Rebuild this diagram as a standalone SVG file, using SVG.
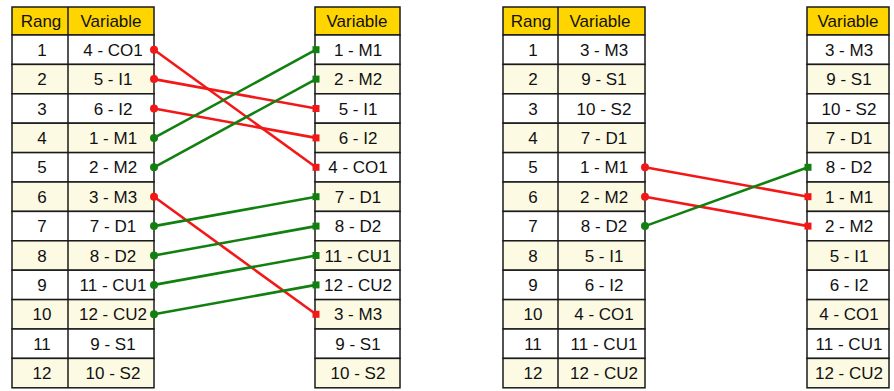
<svg xmlns="http://www.w3.org/2000/svg" width="894" height="391" viewBox="0 0 894 391">
  <style>
    .hd { fill: #FFD500; stroke: #1a1a1a; stroke-width: 1.5; }
    .r0 { fill: #FFFFFF; stroke: #1a1a1a; stroke-width: 1.5; }
    .r1 { fill: #FDFAE3; stroke: #1a1a1a; stroke-width: 1.5; }
    .sep { stroke: #1a1a1a; stroke-width: 1.5; }
    text { font-family: "Liberation Sans", Arial, sans-serif; font-size: 17px; fill: #111; text-anchor: middle; }
    .red { stroke: #F21818; stroke-width: 2.6; fill: none; }
    .grn { stroke: #118011; stroke-width: 2.6; fill: none; }
    .rdot { fill: #F21818; }
    .gdot { fill: #118011; }
  </style>
  <rect width="894" height="391" fill="#FFFFFF"/>

  <!-- Left panel: rank table -->
  <g id="tableA">
    <rect class="hd" x="12" y="7" width="142" height="28"/>
    <line class="sep" x1="68" y1="7" x2="68" y2="35"/>
    <text x="41" y="27">Rang</text><text x="111" y="27">Variable</text>
    <g id="A1"><rect class="r0" x="12" y="35" width="142" height="29.4"/><text x="42" y="56">1</text><text x="113" y="56">4 - CO1</text></g>
    <g id="A2"><rect class="r1" x="12" y="64.4" width="142" height="29.4"/><text x="42" y="85">2</text><text x="113" y="85">5 - I1</text></g>
    <g id="A3"><rect class="r0" x="12" y="93.8" width="142" height="29.4"/><text x="42" y="115">3</text><text x="113" y="115">6 - I2</text></g>
    <g id="A4"><rect class="r1" x="12" y="123.2" width="142" height="29.4"/><text x="42" y="144">4</text><text x="113" y="144">1 - M1</text></g>
    <g id="A5"><rect class="r0" x="12" y="152.6" width="142" height="29.4"/><text x="42" y="173">5</text><text x="113" y="173">2 - M2</text></g>
    <g id="A6"><rect class="r1" x="12" y="182" width="142" height="29.4"/><text x="42" y="203">6</text><text x="113" y="203">3 - M3</text></g>
    <g id="A7"><rect class="r0" x="12" y="211.4" width="142" height="29.4"/><text x="42" y="232">7</text><text x="113" y="232">7 - D1</text></g>
    <g id="A8"><rect class="r1" x="12" y="240.8" width="142" height="29.4"/><text x="42" y="262">8</text><text x="113" y="262">8 - D2</text></g>
    <g id="A9"><rect class="r0" x="12" y="270.2" width="142" height="29.4"/><text x="42" y="291">9</text><text x="113" y="291">11 - CU1</text></g>
    <g id="A10"><rect class="r1" x="12" y="299.6" width="142" height="29.4"/><text x="42" y="320">10</text><text x="113" y="320">12 - CU2</text></g>
    <g id="A11"><rect class="r0" x="12" y="329" width="142" height="29.4"/><text x="42" y="350">11</text><text x="113" y="350">9 - S1</text></g>
    <g id="A12"><rect class="r1" x="12" y="358.4" width="142" height="29.4"/><text x="42" y="379">12</text><text x="113" y="379">10 - S2</text></g>
    <line class="sep" x1="68" y1="35" x2="68" y2="387.8"/>
  </g>

  <!-- Left panel: reordered variables -->
  <g id="tableB">
    <rect class="hd" x="315" y="7" width="85" height="28"/>
    <text x="357" y="27">Variable</text>
    <g id="B1"><rect class="r0" x="315" y="35" width="85" height="29.4"/><text x="358" y="56">1 - M1</text></g>
    <g id="B2"><rect class="r1" x="315" y="64.4" width="85" height="29.4"/><text x="358" y="85">2 - M2</text></g>
    <g id="B3"><rect class="r0" x="315" y="93.8" width="85" height="29.4"/><text x="358" y="115">5 - I1</text></g>
    <g id="B4"><rect class="r1" x="315" y="123.2" width="85" height="29.4"/><text x="358" y="144">6 - I2</text></g>
    <g id="B5"><rect class="r0" x="315" y="152.6" width="85" height="29.4"/><text x="358" y="173">4 - CO1</text></g>
    <g id="B6"><rect class="r1" x="315" y="182" width="85" height="29.4"/><text x="358" y="203">7 - D1</text></g>
    <g id="B7"><rect class="r0" x="315" y="211.4" width="85" height="29.4"/><text x="358" y="232">8 - D2</text></g>
    <g id="B8"><rect class="r1" x="315" y="240.8" width="85" height="29.4"/><text x="358" y="262">11 - CU1</text></g>
    <g id="B9"><rect class="r0" x="315" y="270.2" width="85" height="29.4"/><text x="358" y="291">12 - CU2</text></g>
    <g id="B10"><rect class="r1" x="315" y="299.6" width="85" height="29.4"/><text x="358" y="320">3 - M3</text></g>
    <g id="B11"><rect class="r0" x="315" y="329" width="85" height="29.4"/><text x="358" y="350">9 - S1</text></g>
    <g id="B12"><rect class="r1" x="315" y="358.4" width="85" height="29.4"/><text x="358" y="379">10 - S2</text></g>
  </g>

  <!-- Right panel: rank table -->
  <g id="tableC">
    <rect class="hd" x="503" y="7" width="142" height="28"/>
    <line class="sep" x1="558" y1="7" x2="558" y2="35"/>
    <text x="531" y="27">Rang</text><text x="600" y="27">Variable</text>
    <g id="C1"><rect class="r0" x="503" y="35" width="142" height="29.4"/><text x="533" y="56">1</text><text x="604" y="56">3 - M3</text></g>
    <g id="C2"><rect class="r1" x="503" y="64.4" width="142" height="29.4"/><text x="533" y="85">2</text><text x="604" y="85">9 - S1</text></g>
    <g id="C3"><rect class="r0" x="503" y="93.8" width="142" height="29.4"/><text x="533" y="115">3</text><text x="604" y="115">10 - S2</text></g>
    <g id="C4"><rect class="r1" x="503" y="123.2" width="142" height="29.4"/><text x="533" y="144">4</text><text x="604" y="144">7 - D1</text></g>
    <g id="C5"><rect class="r0" x="503" y="152.6" width="142" height="29.4"/><text x="533" y="173">5</text><text x="604" y="173">1 - M1</text></g>
    <g id="C6"><rect class="r1" x="503" y="182" width="142" height="29.4"/><text x="533" y="203">6</text><text x="604" y="203">2 - M2</text></g>
    <g id="C7"><rect class="r0" x="503" y="211.4" width="142" height="29.4"/><text x="533" y="232">7</text><text x="604" y="232">8 - D2</text></g>
    <g id="C8"><rect class="r1" x="503" y="240.8" width="142" height="29.4"/><text x="533" y="262">8</text><text x="604" y="262">5 - I1</text></g>
    <g id="C9"><rect class="r0" x="503" y="270.2" width="142" height="29.4"/><text x="533" y="291">9</text><text x="604" y="291">6 - I2</text></g>
    <g id="C10"><rect class="r1" x="503" y="299.6" width="142" height="29.4"/><text x="533" y="320">10</text><text x="604" y="320">4 - CO1</text></g>
    <g id="C11"><rect class="r0" x="503" y="329" width="142" height="29.4"/><text x="533" y="350">11</text><text x="604" y="350">11 - CU1</text></g>
    <g id="C12"><rect class="r1" x="503" y="358.4" width="142" height="29.4"/><text x="533" y="379">12</text><text x="604" y="379">12 - CU2</text></g>
    <line class="sep" x1="558" y1="35" x2="558" y2="387.8"/>
  </g>

  <!-- Right panel: reordered variables -->
  <g id="tableD">
    <rect class="hd" x="807" y="7" width="82" height="28"/>
    <text x="848" y="27">Variable</text>
    <g id="D1"><rect class="r0" x="807" y="35" width="82" height="29.4"/><text x="849" y="56">3 - M3</text></g>
    <g id="D2"><rect class="r1" x="807" y="64.4" width="82" height="29.4"/><text x="849" y="85">9 - S1</text></g>
    <g id="D3"><rect class="r0" x="807" y="93.8" width="82" height="29.4"/><text x="849" y="115">10 - S2</text></g>
    <g id="D4"><rect class="r1" x="807" y="123.2" width="82" height="29.4"/><text x="849" y="144">7 - D1</text></g>
    <g id="D5"><rect class="r0" x="807" y="152.6" width="82" height="29.4"/><text x="849" y="173">8 - D2</text></g>
    <g id="D6"><rect class="r1" x="807" y="182" width="82" height="29.4"/><text x="849" y="203">1 - M1</text></g>
    <g id="D7"><rect class="r0" x="807" y="211.4" width="82" height="29.4"/><text x="849" y="232">2 - M2</text></g>
    <g id="D8"><rect class="r1" x="807" y="240.8" width="82" height="29.4"/><text x="849" y="262">5 - I1</text></g>
    <g id="D9"><rect class="r0" x="807" y="270.2" width="82" height="29.4"/><text x="849" y="291">6 - I2</text></g>
    <g id="D10"><rect class="r1" x="807" y="299.6" width="82" height="29.4"/><text x="849" y="320">4 - CO1</text></g>
    <g id="D11"><rect class="r0" x="807" y="329" width="82" height="29.4"/><text x="849" y="350">11 - CU1</text></g>
    <g id="D12"><rect class="r1" x="807" y="358.4" width="82" height="29.4"/><text x="849" y="379">12 - CU2</text></g>
  </g>

  <!-- Connectors: rank position to new position -->
  <g id="connectors">
    <line class="red" x1="154" y1="49.7" x2="316" y2="167.3"/>
    <line class="red" x1="154" y1="79.1" x2="316" y2="108.5"/>
    <line class="red" x1="154" y1="108.5" x2="316" y2="137.9"/>
    <line class="grn" x1="154" y1="137.9" x2="316" y2="49.7"/>
    <line class="grn" x1="154" y1="167.3" x2="316" y2="79.1"/>
    <line class="red" x1="154" y1="196.7" x2="316" y2="314.3"/>
    <line class="grn" x1="154" y1="226.1" x2="316" y2="196.7"/>
    <line class="grn" x1="154" y1="255.5" x2="316" y2="226.1"/>
    <line class="grn" x1="154" y1="284.9" x2="316" y2="255.5"/>
    <line class="grn" x1="154" y1="314.3" x2="316" y2="284.9"/>

    <line class="red" x1="645" y1="167.3" x2="808" y2="196.7"/>
    <line class="red" x1="645" y1="196.7" x2="808" y2="226.1"/>
    <line class="grn" x1="645" y1="226.1" x2="808" y2="167.3"/>

    <!-- start dots -->
    <circle class="rdot" cx="154" cy="49.7" r="4"/>
    <circle class="rdot" cx="154" cy="79.1" r="4"/>
    <circle class="rdot" cx="154" cy="108.5" r="4"/>
    <circle class="gdot" cx="154" cy="137.9" r="4"/>
    <circle class="gdot" cx="154" cy="167.3" r="4"/>
    <circle class="rdot" cx="154" cy="196.7" r="4"/>
    <circle class="gdot" cx="154" cy="226.1" r="4"/>
    <circle class="gdot" cx="154" cy="255.5" r="4"/>
    <circle class="gdot" cx="154" cy="284.9" r="4"/>
    <circle class="gdot" cx="154" cy="314.3" r="4"/>
    <circle class="rdot" cx="645" cy="167.3" r="4"/>
    <circle class="rdot" cx="645" cy="196.7" r="4"/>
    <circle class="gdot" cx="645" cy="226.1" r="4"/>

    <!-- end squares -->
    <rect class="rdot" x="312.5" y="163.8" width="7" height="7"/>
    <rect class="rdot" x="312.5" y="105" width="7" height="7"/>
    <rect class="rdot" x="312.5" y="134.4" width="7" height="7"/>
    <rect class="gdot" x="312.5" y="46.2" width="7" height="7"/>
    <rect class="gdot" x="312.5" y="75.6" width="7" height="7"/>
    <rect class="rdot" x="312.5" y="310.8" width="7" height="7"/>
    <rect class="gdot" x="312.5" y="193.2" width="7" height="7"/>
    <rect class="gdot" x="312.5" y="222.6" width="7" height="7"/>
    <rect class="gdot" x="312.5" y="252" width="7" height="7"/>
    <rect class="gdot" x="312.5" y="281.4" width="7" height="7"/>
    <rect class="rdot" x="804.5" y="193.2" width="7" height="7"/>
    <rect class="rdot" x="804.5" y="222.6" width="7" height="7"/>
    <rect class="gdot" x="804.5" y="163.8" width="7" height="7"/>
  </g>
</svg>
